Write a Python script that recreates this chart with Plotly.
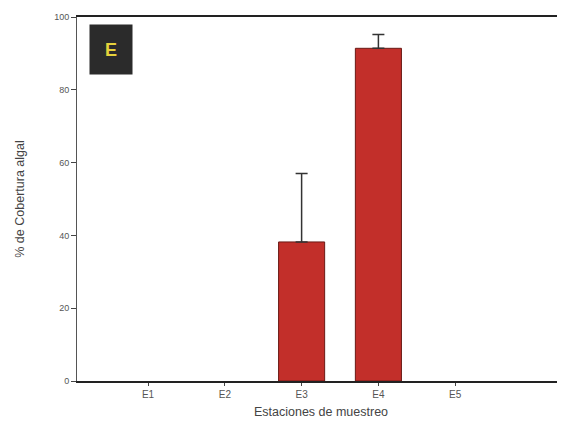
import plotly.graph_objects as go

estaciones = ["E1", "E2", "E3", "E4", "E5"]
cobertura = [0, 0, 38.2, 91.4, 0]
error_sup = [0, 0, 18.8, 3.8, 0]
y_ticks = [0, 20, 40, 60, 80, 100]

# zero-coverage stations draw nothing (no bar, no error cap)
y_plot = [v if v != 0 else None for v in cobertura]

fig = go.Figure()
fig.add_trace(go.Bar(
    x=estaciones, y=y_plot, width=0.6,
    marker=dict(color="#c22f2a", line=dict(color="#6a1a16", width=1)),
    error_y=dict(type="data", symmetric=False, array=error_sup,
                 arrayminus=[0]*5, color="#333333", thickness=1.5, width=6),
))

fig.update_layout(
    width=557, height=420,
    margin=dict(l=69, r=0, t=9, b=47),
    paper_bgcolor="white", plot_bgcolor="white",
    showlegend=False,
    font=dict(family="Liberation Sans, Arial", color="#444444"),
    xaxis=dict(
        range=[-0.925, 5.43],
        showline=True, linecolor="#222222", linewidth=1.5, mirror=True,
        ticks="outside", ticklen=3, tickcolor="#444444",
        tickfont=dict(size=10, color="#555555"),
        title=dict(text="Estaciones de muestreo", font=dict(size=12.5, color="#444444"), standoff=8),
        showgrid=False, zeroline=False,
    ),
    yaxis=dict(
        range=[0, 100], tickvals=y_ticks,
        showline=True, linecolor="#555555", linewidth=1,
        ticks="outside", ticklen=5, tickcolor="#444444",
        tickfont=dict(size=9, color="#555555"),
        title=dict(text="% de Cobertura algal", font=dict(size=12.5, color="#444444"), standoff=26),
        showgrid=False, zeroline=False,
    ),
)

fig.add_annotation(xref="paper", yref="paper", x=0.0246, y=0.980,
                   xanchor="left", yanchor="top",
                   text="<b>E</b>", showarrow=False,
                   width=40, height=47, bgcolor="#2b2b2b",
                   align="center", valign="middle",
                   font=dict(size=18, color="#e6d23c", family="Liberation Sans, Arial"))

fig.write_html("out.html")
